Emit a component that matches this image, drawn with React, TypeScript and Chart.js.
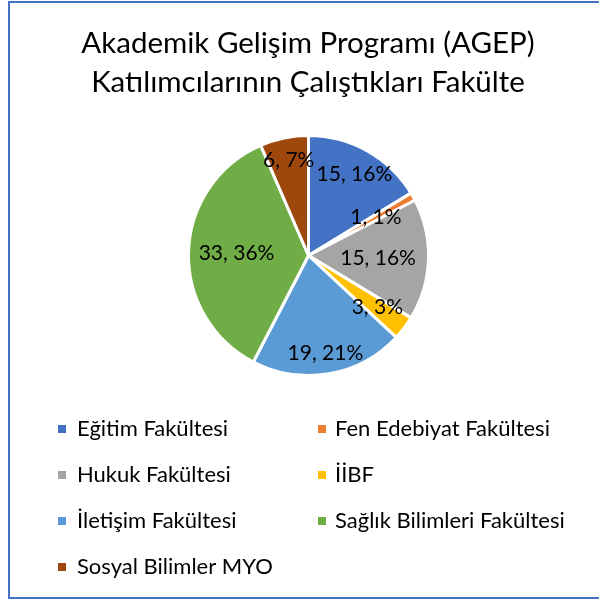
import React, { useEffect, useRef } from "react";
import { Chart, registerables } from "chart.js";

Chart.register(...registerables);

const titleLines = ["Akademik Gelişim Programı (AGEP)", "Katılımcılarının Çalıştıkları Fakülte"];
const categories = [
  "Eğitim Fakültesi",
  "Fen Edebiyat Fakültesi",
  "Hukuk Fakültesi",
  "İİBF",
  "İletişim Fakültesi",
  "Sağlık Bilimleri Fakültesi",
  "Sosyal Bilimler MYO",
];
const participants = [15, 1, 15, 3, 19, 33, 6];
const sliceColors = ["#4472C4", "#ED7D31", "#A5A5A5", "#FFC000", "#5B9BD5", "#70AD47", "#9E480E"];

const FONT = "Lato";

const titlePlugin = {
  id: "twoLineTitle",
  afterDraw(chart: any, _args: any, opts: any) {
    const ctx = chart.ctx;
    ctx.save();
    ctx.font = `${opts.size}px ${FONT}`;
    ctx.fillStyle = opts.color;
    ctx.textAlign = "center";
    ctx.textBaseline = "alphabetic";
    opts.lines.forEach((line: string, i: number) => {
      ctx.fillText(line, opts.centerX, opts.firstBaseline + i * opts.lineStep);
    });
    ctx.restore();
  },
};

const sliceLabelPlugin = {
  id: "sliceLabels",
  afterDatasetsDraw(chart: any, _args: any, opts: any) {
    const ctx = chart.ctx;
    const vals = chart.data.datasets[0].data as number[];
    const total = vals.reduce((a, b) => a + b, 0);
    const meta = chart.getDatasetMeta(0);
    ctx.save();
    ctx.font = `${opts.size}px ${FONT}`;
    ctx.fillStyle = opts.color;
    ctx.textAlign = "center";
    ctx.textBaseline = "middle";
    meta.data.forEach((arc: any, i: number) => {
      const { x, y, startAngle, endAngle, outerRadius } = arc.getProps(
        ["x", "y", "startAngle", "endAngle", "outerRadius"],
        true
      );
      const mid = (startAngle + endAngle) / 2;
      const r = outerRadius * opts.radiusFractions[i];
      const pct = Math.round((vals[i] / total) * 100);
      ctx.fillText(`${vals[i]}, ${pct}%`, x + Math.cos(mid) * r, y + Math.sin(mid) * r);
    });
    ctx.restore();
  },
};

const gridLegendPlugin = {
  id: "gridLegend",
  afterDraw(chart: any, _args: any, opts: any) {
    const ctx = chart.ctx;
    const labels = chart.data.labels as string[];
    const bg = chart.data.datasets[0].backgroundColor as string[];
    ctx.save();
    ctx.font = `${opts.size}px ${FONT}`;
    ctx.textAlign = "left";
    ctx.textBaseline = "middle";
    labels.forEach((lab, i) => {
      const col = opts.columns[i % opts.columns.length];
      const row = Math.floor(i / opts.columns.length);
      const cy = opts.top + row * opts.rowStep;
      ctx.fillStyle = bg[i];
      ctx.fillRect(col.box, cy - opts.boxSize / 2, opts.boxSize, opts.boxSize);
      ctx.fillStyle = opts.color;
      ctx.fillText(lab, col.text, cy);
    });
    ctx.restore();
  },
};

export default function App() {
  const canvasRef = useRef<HTMLCanvasElement | null>(null);

  useEffect(() => {
    if (!canvasRef.current) return;
    const chart = new Chart(canvasRef.current, {
      type: "pie",
      data: {
        labels: categories,
        datasets: [
          {
            data: participants,
            backgroundColor: sliceColors,
            borderColor: "#ffffff",
            borderWidth: 3,
          },
        ],
      },
      options: {
        responsive: false,
        animation: false,
        layout: { padding: { left: 187, right: 169, top: 134, bottom: 222 } },
        plugins: {
          legend: { display: false },
          tooltip: { enabled: false },
          title: { display: false },
          twoLineTitle: {
            lines: titleLines,
            size: 29.5,
            color: "#000000",
            centerX: 308,
            firstBaseline: 53,
            lineStep: 38.5,
          },
          sliceLabels: {
            size: 21,
            color: "#000000",
            radiusFractions: [0.78, 0.645, 0.58, 0.72, 0.83, 0.6, 0.81],
          },
          gridLegend: {
            size: 22,
            color: "#000000",
            boxSize: 8,
            top: 429,
            rowStep: 46,
            columns: [
              { box: 58, text: 77 },
              { box: 318, text: 335 },
            ],
          },
        } as any,
      },
      plugins: [titlePlugin, sliceLabelPlugin, gridLegendPlugin],
    });
    return () => chart.destroy();
  }, []);

  return (
    <div style={{ position: "fixed", inset: 0, overflow: "hidden", background: "#ffffff" }}>
      <canvas
        ref={canvasRef}
        width={599}
        height={599}
        style={{ position: "absolute", left: 0, top: 0, width: 599, height: 599, display: "block" }}
      />
      <div
        style={{
          position: "absolute",
          left: 8,
          top: 1,
          width: 660,
          height: 598,
          boxSizing: "border-box",
          border: "2px solid #4472C4",
          pointerEvents: "none",
        }}
      />
    </div>
  );
}
